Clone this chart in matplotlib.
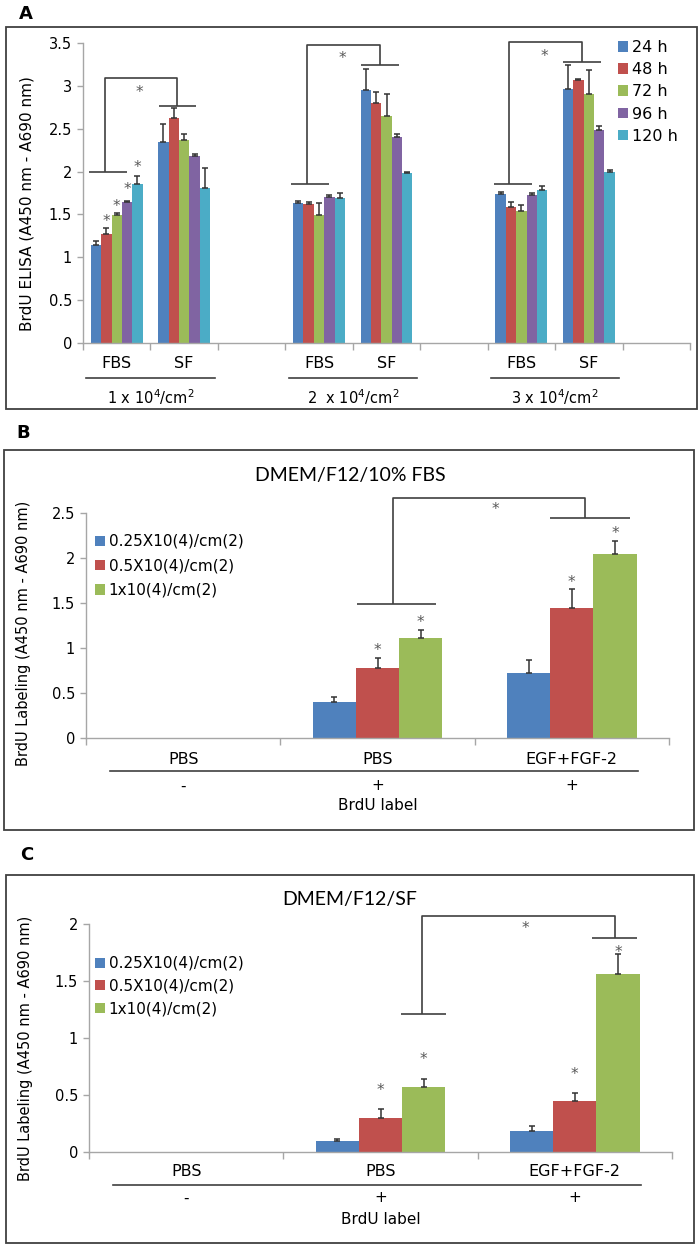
import numpy as np
import matplotlib.pyplot as plt
from matplotlib.patches import Rectangle
from matplotlib.transforms import blended_transform_factory, ScaledTranslation
from matplotlib.ticker import FuncFormatter

plt.rcParams['font.family'] = 'DejaVu Sans'
plt.rcParams['mathtext.fontset'] = 'dejavusans'

W, H = 700, 1246

# ---------------- data: panel A ----------------
times = ['24 h', '48 h', '72 h', '96 h', '120 h']
a_colors = ['#4F81BD', '#C0504D', '#9BBB59', '#8064A2', '#4BACC6']
a_media = ['FBS', 'SF', 'FBS', 'SF', 'FBS', 'SF']
a_slots = [0, 1, 3, 4, 6, 7]          # 9 category slots, every third empty
a_densities = ['1 x 10$^4$/cm$^2$', '2  x 10$^4$/cm$^2$', '3 x 10$^4$/cm$^2$']
# one row per time point, columns follow a_media
a_vals = [
    [1.14, 2.35, 1.63, 2.95, 1.74, 2.96],
    [1.27, 2.62, 1.62, 2.80, 1.59, 3.07],
    [1.49, 2.37, 1.49, 2.65, 1.54, 2.91],
    [1.64, 2.18, 1.70, 2.40, 1.73, 2.48],
    [1.86, 1.81, 1.69, 1.98, 1.79, 2.00],
]
a_errs = [
    [0.05, 0.20, 0.03, 0.25, 0.02, 0.28],
    [0.066, 0.12, 0.03, 0.13, 0.06, 0.015],
    [0.03, 0.07, 0.14, 0.25, 0.065, 0.27],
    [0.02, 0.02, 0.025, 0.035, 0.025, 0.05],
    [0.09, 0.23, 0.065, 0.02, 0.04, 0.02],
]
# stars over the 1x10^4 FBS bars (48-120 h)
a_star_y = [1.48, 1.66, 1.85, 2.11]
# bracket levels per density: FBS bar line, SF bar line, top
a_brackets = [(2.0, 2.77, 3.09), (1.85, 3.24, 3.48), (1.85, 3.28, 3.51)]

# ---------------- data: panels B and C ----------------
densities = ['0.25X10(4)/cm(2)', '0.5X10(4)/cm(2)', '1x10(4)/cm(2)']
bc_colors = ['#4F81BD', '#C0504D', '#9BBB59']
treatments = ['PBS', 'PBS', 'EGF+FGF-2']
brdu = ['-', '+', '+']

b_vals = [[np.nan, 0.40, 0.72], [np.nan, 0.78, 1.44], [np.nan, 1.11, 2.04]]
b_errs = [[0, 0.06, 0.15], [0, 0.105, 0.22], [0, 0.085, 0.145]]
b_stars = [(1, 1, 1.03), (1, 2, 1.34), (2, 1, 1.79), (2, 2, 2.33)]

c_vals = [[np.nan, 0.10, 0.18], [np.nan, 0.30, 0.445], [np.nan, 0.57, 1.565]]
c_errs = [[0, 0.015, 0.044], [0, 0.08, 0.076], [0, 0.067, 0.176]]
c_stars = [(1, 1, 0.585), (1, 2, 0.86), (2, 1, 0.73), (2, 2, 1.80)]

GRAY = '#A6A6A6'
DARK = '#404040'
STAR = '#595959'

fig = plt.figure(figsize=(W / 100, H / 100), dpi=100)
star_shift = ScaledTranslation(0, -4 / 72, fig.dpi_scale_trans)


def fy(y):
    return 1 - y / H


def add_axes_px(x0, y0, x1, y1):
    return fig.add_axes([x0 / W, 1 - y1 / H, (x1 - x0) / W, (y1 - y0) / H])


def panel_box(x0, y0, x1, y1, letter, lx, ly):
    fig.patches.append(Rectangle((x0 / W, fy(y1)), (x1 - x0) / W, (y1 - y0) / H,
                                 transform=fig.transFigure, fill=False,
                                 edgecolor=DARK, lw=1.3))
    fig.text(lx / W, fy(ly), letter, fontsize=13, fontweight='bold',
             ha='center', va='center')


def style(ax, n, ymax, step):
    for s in ['top', 'right']:
        ax.spines[s].set_visible(False)
    for s in ['left', 'bottom']:
        ax.spines[s].set_color(GRAY)
        ax.spines[s].set_linewidth(1.0)
    ax.set_xlim(-0.5, n - 0.5)
    ax.set_ylim(0, ymax)
    ax.set_xticks(np.arange(-0.5, n))
    ax.set_xticklabels([])
    ax.set_yticks(np.arange(0, ymax + 1e-9, step))
    ax.yaxis.set_major_formatter(FuncFormatter(lambda v, p: '%g' % v))
    ax.tick_params(axis='x', length=5, color=GRAY, width=1)
    ax.tick_params(axis='y', length=4, color=GRAY, width=1, labelsize=10.5, pad=4)
    ax.patch.set_alpha(0)


def star(ax, x, y):
    ax.text(x, y, '*', fontsize=11, color=STAR, ha='center', va='center',
            transform=ax.transData + star_shift, clip_on=False)


def bracket(ax, x_left, y_left, x_right, y_right, y_top, line_l, line_r, star_x):
    kw = dict(color=DARK, lw=1.2, clip_on=False, solid_capstyle='butt')
    ax.plot(line_l, [y_left, y_left], **kw)
    ax.plot(line_r, [y_right, y_right], **kw)
    ax.plot([x_left, x_left, x_right, x_right], [y_left, y_top, y_top, y_right], **kw)
    star(ax, star_x, y_top - 0.1 * ax.get_ylim()[1] / 3.5)


# ================= panel A =================
panel_box(6, 27, 697, 409, 'A', 26, 14)
axA = add_axes_px(83, 43, 690, 343)
style(axA, 9, 3.5, 0.5)
bw = 0.154
for i, t in enumerate(times):
    x = np.array(a_slots) + (i - 2) * bw
    axA.bar(x, a_vals[i], bw, color=a_colors[i], label=t, zorder=2)
    axA.errorbar(x, a_vals[i], yerr=[np.zeros(6), a_errs[i]], fmt='none',
                 ecolor='#333333', elinewidth=1.1, capsize=2.2, capthick=1.1, zorder=3)
for i in range(1, 5):
    star(axA, 0 + (i - 2) * bw, a_star_y[i - 1])
for g, (yl, yr, yt) in enumerate(a_brackets):
    s = 3 * g
    bracket(axA, s - 0.18, yl, s + 0.9, yr, yt,
            [s - 0.41, s + 0.15], [s + 0.62, s + 1.18], s + 0.34)

trA = blended_transform_factory(axA.transData, fig.transFigure)
for k, m in zip(a_slots, a_media):
    axA.text(k, fy(363), m, transform=trA, ha='center', va='center', fontsize=11.5)
for g, d in enumerate(a_densities):
    s = 3 * g
    axA.plot([s - 0.45, s + 1.45], [fy(378), fy(378)], transform=trA,
             color=DARK, lw=1.2, clip_on=False)
    axA.text(s + 0.5, fy(397), d, transform=trA, ha='center', va='center', fontsize=10.5)
fig.text(27 / W, fy(204), 'BrdU ELISA (A450 nm - A690 nm)', rotation=90,
         ha='center', va='center', fontsize=11)
axA.legend(loc='upper left', bbox_to_anchor=(618 / W, fy(40)),
           bbox_transform=fig.transFigure, frameon=False, fontsize=11.5,
           handlelength=0.65, handleheight=0.65, handletextpad=0.25,
           labelspacing=0.45, borderpad=0, borderaxespad=0)


# ================= panels B and C =================
def bc_panel(box, letter, lpos, axbox, ymax, title, title_y, vals, errs, stars,
             brk, label_y, ylab_pos, leg_top, spacing):
    panel_box(*box, letter, *lpos)
    ax = add_axes_px(*axbox)
    style(ax, 3, ymax, 0.5)
    w = 0.222
    xs = np.arange(3)
    for i, d in enumerate(densities):
        x = xs + (i - 1) * w
        v = np.array(vals[i])
        ax.bar(x, v, w, color=bc_colors[i], label=d, zorder=2)
        ax.errorbar(x, v, yerr=[np.zeros(3), errs[i]], fmt='none', ecolor='#333333',
                    elinewidth=1.1, capsize=2.2, capthick=1.1, zorder=3)
    for g, i, y in stars:
        star(ax, g + (i - 1) * w, y)
    bracket(ax, *brk)
    tr = blended_transform_factory(ax.transData, fig.transFigure)
    y_treat, y_line, y_sign, y_lab = label_y
    for g in range(3):
        ax.text(g, fy(y_treat), treatments[g], transform=tr, ha='center', va='center',
                fontsize=11.5)
        ax.text(g, fy(y_sign), brdu[g], transform=tr, ha='center', va='center',
                fontsize=11)
    ax.plot([-0.376, 2.34], [fy(y_line), fy(y_line)], transform=tr, color=DARK,
            lw=1.2, clip_on=False)
    ax.text(1, fy(y_lab), 'BrdU label', transform=tr, ha='center', va='center',
            fontsize=11)
    fig.text(350 / W, fy(title_y), title, ha='center', va='center', fontsize=14,
             family='Lato')
    fig.text(ylab_pos[0] / W, fy(ylab_pos[1]), 'BrdU Labeling (A450 nm - A690 nm)',
             rotation=90, ha='center', va='center', fontsize=10.5)
    ax.legend(loc='upper left', bbox_to_anchor=(95 / W, fy(leg_top)),
              bbox_transform=fig.transFigure, frameon=False, fontsize=11,
              handlelength=0.65, handleheight=0.65, handletextpad=0.25,
              labelspacing=spacing, borderpad=0, borderaxespad=0)
    return ax


bc_panel((4, 450, 694, 830), 'B', (23, 433), (86, 513, 669, 738), 2.5,
         'DMEM/F12/10% FBS', 475, b_vals, b_errs, b_stars,
         (1.08, 1.49, 2.07, 2.44, 2.67, [0.895, 1.30], [1.888, 2.30], 1.605),
         (759, 771, 786, 806), (24, 633), 534, 0.62)

bc_panel((6, 875, 694, 1243), 'C', (27, 855), (89, 924, 672, 1152), 2.0,
         'DMEM/F12/SF', 900, c_vals, c_errs, c_stars,
         (1.214, 1.21, 2.207, 1.88, 2.07, [1.106, 1.337], [2.089, 2.32], 1.744),
         (1172, 1185, 1198, 1219), (26, 1048), 956, 0.5)

fig.savefig('out.png', dpi=100)
